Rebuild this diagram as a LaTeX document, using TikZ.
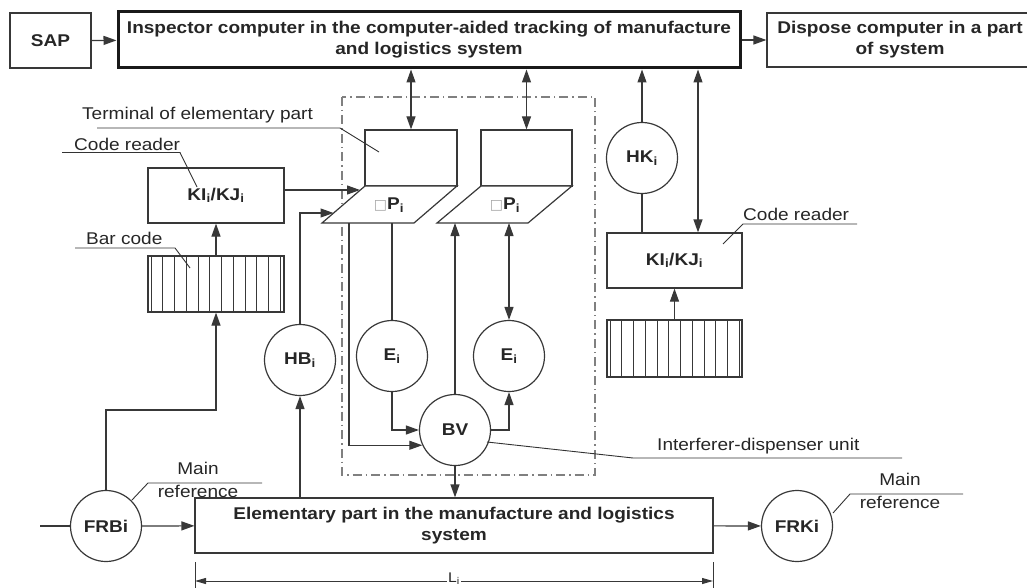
\documentclass[tikz,border=0pt]{standalone}
\usepackage{fontspec}
\setmainfont{Liberation Sans}[FakeStretch=1.12]
\newfontfamily\symfont{DejaVu Sans}
\usetikzlibrary{arrows.meta,calc}
\begin{document}
\begin{tikzpicture}[x=1pt,y=-1pt,
  every node/.style={font=\fontsize{17}{21}\selectfont, text=black!85},
  ln/.style={draw=black!78, line width=1.2pt},
  arr/.style={ln, -{Triangle[length=13pt,width=9pt]}},
  darr/.style={ln, {Triangle[length=13pt,width=9pt]}-{Triangle[length=13pt,width=9pt]}},
  box/.style={ln, rectangle, inner sep=0pt, align=center, font=\fontsize{17}{21}\selectfont\bfseries},
  circ/.style={ln, circle, inner sep=0pt, minimum size=71pt, font=\fontsize{17}{21}\selectfont\bfseries},
  lead/.style={draw=black!80, line width=0.9pt},
  lbl/.style={inner sep=0pt, font=\fontsize{17}{21}\selectfont},
  pl/.style={ln, fill=white}
]
\useasboundingbox (0,0) rectangle (1027,588);
% top row
\node[box, minimum width=81pt, minimum height=55pt] (sap) at (50.5,40.5) {SAP};
\node[box, line width=3pt, draw=black!90, minimum width=622pt, minimum height=56pt] (ins) at (429,40) {Inspector computer in the computer-aided tracking of manufacture\\and logistics system};
\node[box, minimum width=266pt, minimum height=54pt] (dis) at (900,40) {Dispose computer in a part\\of system};
\draw[arr] (sap) -- (ins);
\draw[arr] (ins) -- (dis);
% dash-dot frame
\draw[draw=black!50, line width=1.2pt, dash pattern=on 9pt off 4pt on 1.5pt off 4pt] (342,97) rectangle (595,475);
% terminals
\node[box, minimum width=92pt, minimum height=56pt] (T1) at (411,158) {};
\node[box, minimum width=91pt, minimum height=56pt] (T2) at (526.5,158) {};
\draw[pl] (365,186) -- (457,186) -- (414,223) -- (322,223) -- cycle;
\draw[pl] (481,186) -- (572,186) -- (528,223) -- (437,223) -- cycle;
\node[lbl] (P1) at (389,205) {{\symfont\color{black!35}\fontsize{14}{14}\selectfont □}\textbf{P\textsubscript{i}}};
\node[lbl] (P2) at (505,205) {{\symfont\color{black!35}\fontsize{14}{14}\selectfont □}\textbf{P\textsubscript{i}}};
\coordinate (a1) at (360,190);
\coordinate (a2) at (333.5,213);
\coordinate (p1a) at (349,223);
\coordinate (p1b) at (392,223);
\coordinate (p2a) at (455,223);
\coordinate (p2b) at (509,223);
\draw[darr] (ins.south -| T1.north) -- (T1.north);
\draw[darr] (ins.south -| T2.north) -- (T2.north);
% readers and barcodes
\node[box, minimum width=136pt, minimum height=55pt] (kiL) at (216,195.5) {KI\textsubscript{i}/KJ\textsubscript{i}};
\node[box, minimum width=135pt, minimum height=55pt] (kiR) at (674.5,260.5) {KI\textsubscript{i}/KJ\textsubscript{i}};
\node[box, minimum width=136pt, minimum height=56pt] (barL) at (216,284) {};
\node[box, minimum width=135pt, minimum height=57pt] (barR) at (674.5,348.5) {};
\foreach \k in {0,...,11} {
  \draw[ln, line width=1pt] ({151+11.75*\k},256) -- ({151+11.75*\k},312);
  \draw[ln, line width=1pt] ({610+11.75*\k},320) -- ({610+11.75*\k},377);
}
\draw[arr] (barL.north) -- (kiL.south);
\draw[arr] (barR.north) -- (kiR.south);
\draw[arr] (kiL.east |- a1) -- (a1);
% circles
\node[circ] (HK) at (642,158) {HK\textsubscript{i}};
\node[circ] (HB) at (300,360) {HB\textsubscript{i}};
\node[circ] (E1) at (392,356) {E\textsubscript{i}};
\node[circ] (E2) at (509,356) {E\textsubscript{i}};
\node[circ] (BV) at (455,430) {BV};
\node[circ] (FRB) at (106,526) {FRBi};
\node[circ] (FRK) at (797,526) {FRKi};
\node[box, minimum width=518pt, minimum height=55pt] (elem) at (454,525.5) {Elementary part in the manufacture and logistics\\system};
\coordinate (r1) at (698,0);
\draw[arr] (HK.north) -- (HK.north |- ins.south);
\draw[ln] (HK.south) -- (HK.south |- kiR.north);
\draw[darr] (ins.south -| r1) -- (kiR.north -| r1);
% inner connectors
\draw[arr] (p1a) |- (BV.205);
\draw[ln] (p1b) -- (E1.north);
\draw[arr] (E1.south) |- (BV.west);
\draw[arr] (BV.north) -- (p2a);
\draw[darr] (p2b) -- (E2.north);
\draw[arr] (BV.east) -| (E2.south);
\draw[arr] (BV.south) -- (BV.south |- elem.north);
\draw[arr] (elem.north -| HB) -- (HB.south);
\draw[arr] (HB.north) |- (a2);
% bottom
\coordinate (in) at (40,526);
\coordinate (k1) at (216,410);
\draw[ln] (in) -- (FRB);
\draw[arr] (FRB) -- (elem);
\draw[arr] (elem) -- (FRK);
\draw[arr] (FRB.north) |- (k1) -- (barL.south);
% dimension
\coordinate (d1) at (195,562);
\coordinate (d2) at (713,562);
\draw[ln, line width=1pt] (d1) -- (195,590);
\draw[ln, line width=1pt] (d2) -- (713,590);
\draw[ln, line width=1pt, {Triangle[length=11pt,width=6pt]}-{Triangle[length=11pt,width=6pt]}] (195,581) -- (713,581);
\node[lbl, fill=white, inner xsep=1pt, font=\fontsize{14}{14}\selectfont] (Li) at (454,578.5) {L\textsubscript{i}};
% labels and leaders
\node[lbl, anchor=base west] (tTerm) at (82,120) {Terminal of elementary part};
\draw[lead] (97,128) -- (340,128) -- (379,152);
\node[lbl, anchor=base west] (tCodeL) at (74,151) {Code reader};
\draw[lead] (62,152.5) -- (180,152.5) -- (197,187);
\node[lbl, anchor=base west] (tBar) at (86,244) {Bar code};
\draw[lead] (75,248) -- (175,248) -- (190,268);
\node[lbl, anchor=base west] (tCodeR) at (743,220) {Code reader};
\draw[lead] (723,244) -- (743,224) -- (857,224);
\node[lbl, anchor=base west] (tInt) at (657,450) {Interferer-dispenser unit};
\draw[lead] (487,442) -- (633,458) -- (902,458);
\node[lbl, anchor=base] (tM1) at (198,474) {Main};
\node[lbl, anchor=base] (tR1) at (198,497) {reference};
\draw[lead] (132,500) -- (148,483) -- (262,483);
\node[lbl, anchor=base] (tM2) at (900,485) {Main};
\node[lbl, anchor=base] (tR2) at (900,508) {reference};
\draw[lead] (833,513) -- (850,494) -- (963,494);
\end{tikzpicture}
\end{document}
